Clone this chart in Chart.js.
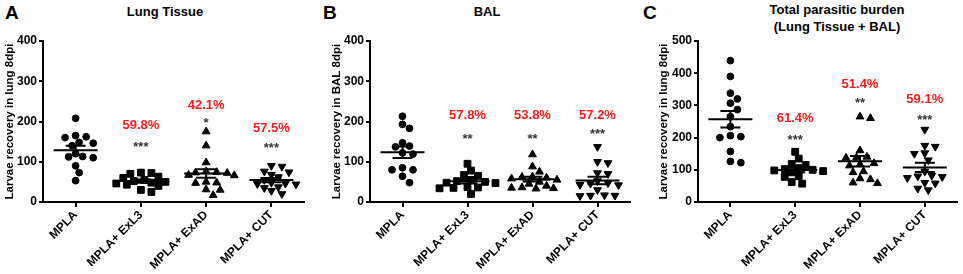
<!DOCTYPE html>
<html>
<head>
<meta charset="utf-8">
<script src="https://cdn.jsdelivr.net/npm/chart.js@4.4.0/dist/chart.umd.min.js"></script>
<style>
    body { margin: 0; width: 963px; height: 274px; background: #fff; position: relative; overflow: hidden; font-family: "Liberation Sans", Arial, sans-serif; }
    canvas { position: absolute; top: 0; }
    .txt { position: absolute; font-weight: bold; color: #000; white-space: nowrap; }
    .letter { font-size: 19px; top: 2px; }
    .title { font-size: 13px; text-align: center; line-height: 17px; }
</style>
</head>
<body>
<div class="txt letter" style="left:5px">A</div>
<div class="txt letter" style="left:323px">B</div>
<div class="txt letter" style="left:643px">C</div>
<div class="txt title" style="left:105px;width:120px;top:3px">Lung Tissue</div>
<div class="txt title" style="left:427px;width:120px;top:3px">BAL</div>
<div class="txt title" style="left:737px;width:200px;top:1px">Total parasitic burden<br>(Lung Tissue + BAL)</div>

<canvas id="chart-a" width="320" height="274" style="left:0"></canvas>
<canvas id="chart-b" width="320" height="274" style="left:320px"></canvas>
<canvas id="chart-c" width="323" height="274" style="left:640px"></canvas>

<script>
const groups = ['MPLA', 'MPLA+ ExL3', 'MPLA+ ExAD', 'MPLA+ CUT'];

// A - lung tissue
const lungMPLA = [208, 165, 162, 160, 148, 146, 140, 120, 113, 112, 110, 90, 73, 53];
const lungExL3 = [73, 72, 70, 63, 60, 55, 52, 50, 48, 46, 43, 40, 30, 25];
const lungExAD = [175, 140, 98, 76, 74, 73, 72, 67, 66, 50, 48, 47, 31, 30, 17];
const lungCUT = [90, 88, 76, 74, 68, 62, 55, 48, 46, 45, 44, 37, 35, 28, 20];
const lungPct = ['', '59.8%', '42.1%', '57.5%'];
const lungPctAt = [null, 191, 241, 183];
const lungStars = ['', '***', '*', '***'];
const lungStarsAt = [null, 144, 203, 140];

// B - BAL
const balMPLA = [213, 193, 183, 147, 137, 139, 122, 119, 85, 80, 80, 64, 48];
const balExL3 = [95, 78, 67, 65, 55, 52, 50, 48, 47, 37, 36, 35, 34, 20];
const balExAD = [118, 88, 75, 63, 62, 60, 58, 55, 50, 45, 40, 36, 35, 34, 33];
const balCUT = [137, 100, 97, 72, 70, 52, 47, 46, 43, 42, 30, 17, 16, 16, 15];
const balPct = ['', '57.8%', '53.8%', '57.2%'];
const balPctAt = [null, 216, 216, 216];
const balStars = ['', '**', '**', '***'];
const balStarsAt = [null, 164, 164, 175];

// C - total (lung + BAL)
const totMPLA = [439, 390, 338, 320, 307, 287, 265, 234, 206, 200, 203, 157, 122, 126];
const totExL3 = [156, 135, 118, 115, 105, 102, 100, 98, 96, 92, 80, 78, 62, 57];
const totExAD = [265, 260, 160, 140, 138, 137, 120, 117, 113, 95, 92, 73, 70, 60, 58];
const totCUT = [225, 175, 172, 152, 150, 130, 95, 82, 80, 78, 75, 60, 58, 42, 37];
const totPct = ['', '61.4%', '51.4%', '59.1%'];
const totPctAt = [null, 259, 365, 319];
const totStars = ['', '***', '**', '***'];
const totStarsAt = [null, 202, 316, 262];

const ticksLung = [0, 100, 200, 300, 400];
const ticksTot = [0, 100, 200, 300, 400, 500];

const CAT_PX = 65;
const PLOT_H = 161;

// beeswarm: spread points sideways so they don't overlap
const swarm = (values, cat, yMax) => {
    const pxPerUnit = PLOT_H / yMax;
    const placed = [];
    const order = values.map((v, i) => i).sort((a, b) => values[b] - values[a]);
    const out = new Array(values.length);
    order.forEach(i => {
        const py = values[i] * pxPerUnit;
        let off = 0;
        for (let k = 0; k < 40; k++) {
            const cands = k === 0 ? [0] : [k * 3.5, -k * 3.5];
            const ok = cands.find(c => placed.every(p => Math.hypot(p.x - c, p.y - py) >= 7.4));
            if (ok !== undefined) { off = ok; break; }
        }
        placed.push({ x: off, y: py });
        out[i] = { x: cat + off / CAT_PX, y: values[i] };
    });
    return out;
};

const styles = [
    { pointStyle: 'circle', radius: 3.4, rotation: 0 },
    { pointStyle: 'rect', radius: 4.8, rotation: 0 },
    { pointStyle: 'triangle', radius: 4.5, rotation: 0 },
    { pointStyle: 'triangle', radius: 4.5, rotation: 180 }
];

const makeExtras = (pcts, pctAt, stars, starsAt) => ({
    id: 'extras',
    afterDatasetsDraw(chart) {
        const { ctx, scales: { x, y } } = chart;
        ctx.save();
        ctx.strokeStyle = '#000';
        ctx.lineWidth = 2;
        chart.data.datasets.forEach((ds, i) => {
            const vals = ds.data.map(p => p.y);
            const n = vals.length;
            const mean = vals.reduce((a, b) => a + b, 0) / n;
            const sd = Math.sqrt(vals.reduce((a, b) => a + (b - mean) ** 2, 0) / (n - 1));
            const sem = sd / Math.sqrt(n);
            const cx = x.getPixelForValue(i);
            const ym = y.getPixelForValue(mean);
            const yh = y.getPixelForValue(mean + sem);
            const yl = y.getPixelForValue(mean - sem);
            ctx.beginPath();
            ctx.moveTo(cx - 22, ym); ctx.lineTo(cx + 22, ym);
            ctx.moveTo(cx, yh); ctx.lineTo(cx, yl);
            ctx.moveTo(cx - 10, yh); ctx.lineTo(cx + 10, yh);
            ctx.moveTo(cx - 10, yl); ctx.lineTo(cx + 10, yl);
            ctx.stroke();
        });
        ctx.textAlign = 'center';
        ctx.textBaseline = 'middle';
        groups.forEach((g, i) => {
            const cx = x.getPixelForValue(i);
            if (pctAt[i] != null) {
                ctx.fillStyle = '#ff1a1a';
                ctx.font = 'bold 13px "Liberation Sans", Arial';
                ctx.fillText(pcts[i], cx, y.getPixelForValue(pctAt[i]));
            }
            if (starsAt[i] != null) {
                ctx.fillStyle = '#333';
                ctx.font = 'bold 13px "Liberation Sans", Arial';
                ctx.fillText(stars[i], cx, y.getPixelForValue(starsAt[i]) + 3);
            }
        });
        ctx.restore();
    }
});

const makePanel = (id, sets, yTicks, yTitle, axisW, titlePad, padRight, pcts, pctAt, stars, starsAt) => {
    const yMax = yTicks[yTicks.length - 1];
    new Chart(document.getElementById(id), {
        type: 'scatter',
        data: {
            datasets: sets.map((vals, i) => ({
                data: swarm(vals, i, yMax),
                pointStyle: styles[i].pointStyle,
                pointRadius: styles[i].radius,
                pointRotation: styles[i].rotation,
                backgroundColor: '#000',
                borderColor: '#000',
                borderWidth: 1
            }))
        },
        options: {
            responsive: false,
            animation: false,
            layout: { padding: { top: 41, right: padRight, left: 0, bottom: 0 } },
            plugins: { legend: { display: false }, tooltip: { enabled: false } },
            scales: {
                x: {
                    type: 'linear',
                    min: -0.5,
                    max: 3.5,
                    afterBuildTicks: s => { s.ticks = groups.map((g, i) => ({ value: i })); },
                    afterFit: s => { s.height = 72; },
                    border: { color: '#000', width: 2 },
                    grid: { drawOnChartArea: false, drawTicks: true, tickLength: 5, color: '#000', lineWidth: 2 },
                    ticks: {
                        autoSkip: false,
                        maxRotation: 45,
                        minRotation: 45,
                        padding: 1,
                        color: '#000',
                        font: { family: '"Liberation Sans", Arial', size: 12, weight: 'bold' },
                        callback: v => groups[v]
                    }
                },
                y: {
                    min: 0,
                    max: yMax,
                    afterBuildTicks: s => { s.ticks = yTicks.map(v => ({ value: v })); },
                    afterFit: s => { s.width = axisW; },
                    border: { color: '#000', width: 2 },
                    grid: { drawOnChartArea: false, drawTicks: true, tickLength: 4, color: '#000', lineWidth: 2 },
                    ticks: {
                        padding: 2,
                        color: '#000',
                        font: { family: '"Liberation Sans", Arial', size: 12, weight: 'bold' }
                    },
                    title: {
                        display: true,
                        text: yTitle,
                        color: '#000',
                        padding: { top: titlePad, bottom: 0 },
                        font: { family: '"Liberation Sans", Arial', size: 11.5, weight: 'bold' }
                    }
                }
            }
        },
        plugins: [makeExtras(pcts, pctAt, stars, starsAt)]
    });
};

makePanel('chart-a', [lungMPLA, lungExL3, lungExAD, lungCUT], ticksLung, 'Larvae recovery in lung 8dpi',
    43, 2.5, 16, lungPct, lungPctAt, lungStars, lungStarsAt);
makePanel('chart-b', [balMPLA, balExL3, balExAD, balCUT], ticksLung, 'Larvae recovery in BAL 8dpi',
    50, 9.5, 10, balPct, balPctAt, balStars, balStarsAt);
makePanel('chart-c', [totMPLA, totExL3, totExAD, totCUT], ticksTot, 'Larvae recovery in lung 8dpi',
    58, 17, 4, totPct, totPctAt, totStars, totStarsAt);
</script>
</body>
</html>
